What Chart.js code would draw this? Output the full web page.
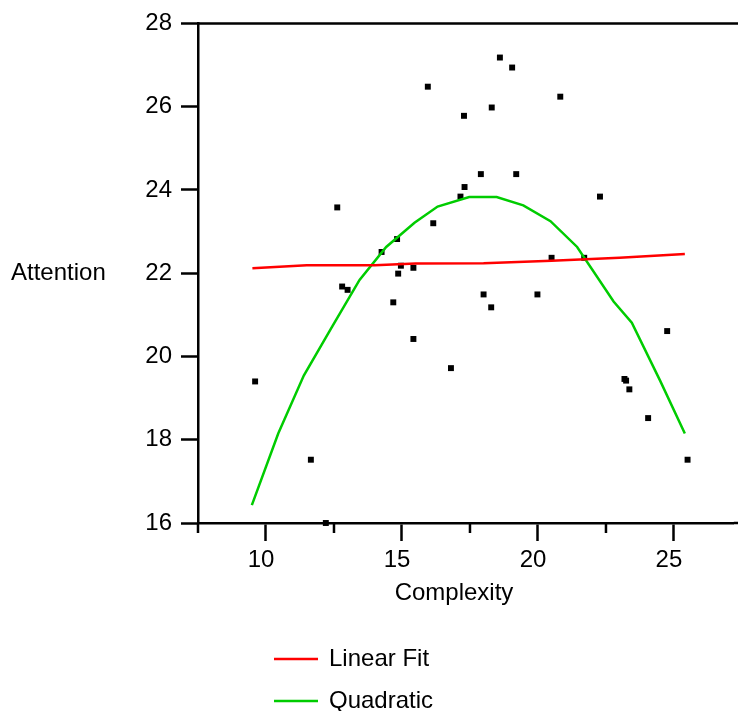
<!DOCTYPE html>
<html>
<head>
<meta charset="utf-8">
<script src="https://cdn.jsdelivr.net/npm/chart.js@4.4.1/dist/chart.umd.min.js"></script>
<style>
  html, body { margin: 0; padding: 0; background: #fff; }
  canvas { display: block; }
</style>
</head>
<body>
<canvas id="myScatterChart" width="738" height="711"></canvas>
<script>
const complexity = [9.6, 11.65, 12.2, 12.62, 12.8, 13.0, 14.25, 14.68, 14.82, 14.86, 14.96,
    15.42, 15.42, 15.95, 16.15, 16.8, 17.15, 17.28, 17.3, 17.9, 18.0, 18.28, 18.3, 18.6,
    19.05, 19.2, 19.98, 20.5, 20.82, 21.7, 22.28, 23.18, 23.24, 23.36, 24.05, 24.75, 25.5];
const attention = [19.4, 17.52, 16.0, 23.58, 21.68, 21.6, 22.51, 21.3, 22.82, 21.99, 22.18,
    22.13, 20.42, 26.48, 23.2, 19.72, 23.84, 25.78, 24.07, 24.38, 21.49, 21.18, 25.98, 27.18,
    26.94, 24.38, 21.49, 22.37, 26.24, 22.37, 23.84, 19.46, 19.42, 19.21, 18.52, 20.61, 17.52];

// fitted curves
const linearX = [9.5, 11.5, 14, 15.5, 18, 20.5, 23, 25.4];
const linearY = [22.12, 22.19, 22.19, 22.23, 22.24, 22.3, 22.37, 22.46];
const quadX = [9.48, 10.45, 11.39, 12.4, 13.44, 14.42, 15.46, 16.31, 17.47, 18.48,
    19.46, 20.46, 21.44, 22.78, 23.45, 24.49, 25.4];
const quadY = [16.43, 18.15, 19.54, 20.68, 21.84, 22.63, 23.21, 23.6, 23.83, 23.83,
    23.63, 23.25, 22.63, 21.32, 20.81, 19.42, 18.15];

const xTicks = [10, 15, 20, 25];
const xMinorTicks = [7.5, 12.5, 17.5, 22.5];
const xTitle = 'Complexity';
const yTitle = 'Attention';
const seriesNames = ['Linear Fit', 'Quadratic'];

const FONT = "'Liberation Sans', Arial, sans-serif";

function toPoints(xs, ys) {
    return xs.map((x, i) => ({ x: x, y: ys[i] }));
}

// top border, minor ticks, titles and the stacked legend
const extras = {
    id: 'extras',
    afterDraw(chart) {
        const ctx = chart.ctx;
        const area = chart.chartArea;
        const xs = chart.scales.x;
        ctx.save();
        ctx.strokeStyle = '#000';
        ctx.lineWidth = 2.5;
        ctx.beginPath();
        ctx.moveTo(area.left, area.top);
        ctx.lineTo(chart.width, area.top);
        ctx.moveTo(area.right, area.bottom);
        ctx.lineTo(chart.width, area.bottom);
        xMinorTicks.forEach(v => {
            const px = xs.getPixelForValue(v);
            ctx.moveTo(px, area.bottom);
            ctx.lineTo(px, area.bottom + 10);
        });
        ctx.stroke();

        ctx.fillStyle = '#000';
        ctx.font = '24px ' + FONT;
        ctx.textBaseline = 'middle';
        ctx.textAlign = 'left';
        ctx.fillText(yTitle, 11, (area.top + area.bottom) / 2);
        ctx.textAlign = 'center';
        ctx.fillText(xTitle, 454, 593);

        // legend
        const lines = chart.data.datasets.filter(d => d.showLine);
        lines.forEach((d, i) => {
            const y = 659 + i * 42;
            ctx.strokeStyle = d.borderColor;
            ctx.lineWidth = 2.5;
            ctx.beginPath();
            ctx.moveTo(274, y);
            ctx.lineTo(318, y);
            ctx.stroke();
            ctx.textAlign = 'left';
            ctx.fillText(d.label, 329, y);
        });
        ctx.restore();
    }
};

const ctx = document.getElementById('myScatterChart').getContext('2d');
const myScatterChart = new Chart(ctx, {
    type: 'scatter',
    data: {
        datasets: [{
            label: seriesNames[0],
            data: toPoints(linearX, linearY),
            showLine: true,
            borderColor: '#ff0000',
            borderWidth: 2.5,
            pointRadius: 0,
            order: 1
        }, {
            label: seriesNames[1],
            data: toPoints(quadX, quadY),
            showLine: true,
            borderColor: '#00cc00',
            borderWidth: 2.5,
            pointRadius: 0,
            order: 2
        }, {
            label: 'Data',
            data: toPoints(complexity, attention),
            showLine: false,
            pointStyle: 'rect',
            pointRadius: 4.2,
            pointBorderWidth: 0,
            backgroundColor: '#000',
            clip: false,
            order: 3
        }]
    },
    options: {
        responsive: false,
        animation: false,
        layout: { padding: { top: 19, left: 0, right: -5, bottom: 0 } },
        plugins: {
            legend: { display: false },
            tooltip: { enabled: false }
        },
        scales: {
            x: {
                type: 'linear',
                min: 7.5,
                max: 27.2,
                afterBuildTicks: scale => { scale.ticks = xTicks.map(v => ({ value: v })); },
                afterFit: scale => { scale.height = 188; },
                grid: { drawOnChartArea: false, tickLength: 18, tickWidth: 2.5, tickColor: '#000' },
                border: { display: true, color: '#000', width: 2.5 },
                ticks: { color: '#000', font: { size: 24, family: FONT }, padding: 5, labelOffset: -5, maxRotation: 0 }
            },
            y: {
                min: 16,
                max: 28,
                afterFit: scale => { scale.width = 198; },
                grid: { drawOnChartArea: false, tickLength: 17, tickWidth: 2.5, tickColor: '#000' },
                border: { display: true, color: '#000', width: 2.5 },
                ticks: { stepSize: 2, color: '#000', font: { size: 24, family: FONT }, padding: 9 }
            }
        }
    },
    plugins: [extras]
});
</script>
</body>
</html>
